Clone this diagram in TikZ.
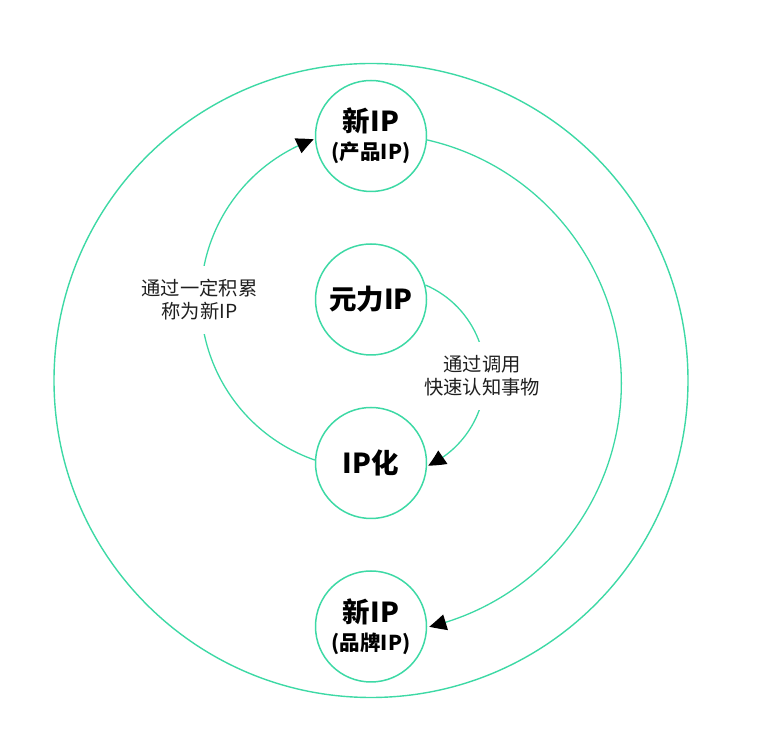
\documentclass[tikz,border=0pt]{standalone}
\usepackage{fontspec}
\setmainfont{Noto Sans CJK SC}
\usetikzlibrary{arrows.meta,bending}
\definecolor{ipgreen}{HTML}{3DD9A5}
\tikzset{
  ipnode/.style={circle,draw=ipgreen,line width=1.5pt,minimum size=111pt,inner sep=0pt,align=center,text=black},
  conn/.style={draw=ipgreen,line width=1.3pt},
  tip/.style={-{Triangle[length=17pt,width=16pt,bend,color=black]}},
  lbl/.style={fill=white,align=center,inner xsep=4pt,inner ysep=14pt,text=black!88,font=\fontsize{19.3}{23}\selectfont}
}
\newcommand{\bigtxt}[1]{{\fontsize{27.5}{30}\selectfont\bfseries #1}}
\newcommand{\smalltxt}[1]{{\fontsize{20.5}{22}\selectfont\bfseries #1}}
\begin{document}
\begin{tikzpicture}[x=1pt,y=1pt]
\useasboundingbox (0,0) rectangle (780,749);
% outer circle
\node[circle,draw=ipgreen,line width=1.4pt,minimum size=634pt,inner sep=0pt] (outer) at (371,368.5) {};
% nodes
\node[ipnode] (newprod) at (371,613) {\bigtxt{新IP}\\[7pt]\smalltxt{(产品IP)}};
\node[ipnode] (yuanli) at (371,449.5) {\bigtxt{元力IP}};
\node[ipnode] (ipx) at (371,286) {\bigtxt{IP化}};
\node[ipnode] (newbrand) at (371,122.5) {\bigtxt{新IP}\\[7pt]\smalltxt{(品牌IP)}};
% connectors
\draw[conn,tip] (ipx.177) arc[start angle=250.8,end angle=109.6,radius=170pt];
\draw[conn,tip] (yuanli.15) arc[start angle=66.8,end angle=-65,radius=99pt];
\draw[conn,tip] (newprod.-4) arc[start angle=77.1,end angle=-76.6,radius=250pt];
% labels
\node[lbl] (lblleft) at (199.5,449) {通过一定积累\\称为新IP};
\node[lbl] (lblright) at (482,373) {通过调用\\快速认知事物};
\end{tikzpicture}
\end{document}
